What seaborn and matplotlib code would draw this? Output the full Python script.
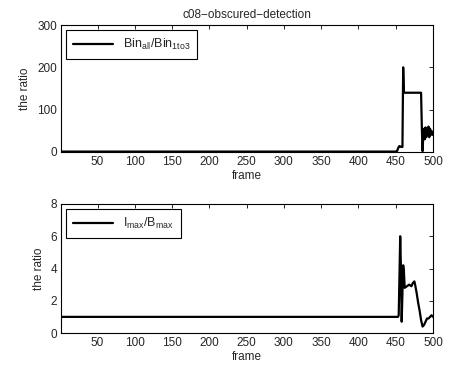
import matplotlib
matplotlib.use("Agg")
import matplotlib.pyplot as plt
import seaborn as sns
import pandas as pd

# ---- data ----
frames_top = [1, 451, 452, 453, 454, 455, 456, 457, 458, 459, 460, 461, 462,
              470, 480, 484, 485, 486, 487, 488, 489, 490, 491, 492, 493,
              494, 495, 496, 497, 498, 499, 500]
ratio_top = [1, 1, 3, 8, 12, 14, 13, 12, 12, 12, 200, 140, 140,
             140, 140, 140, 60, 2, 40, 55, 30, 58, 35, 50, 42, 60,
             35, 55, 40, 50, 45, 40]

frames_bot = [1, 453, 454, 455, 456, 457, 458, 459, 460, 461, 462, 465, 468,
              471, 473, 475, 476, 478, 480, 482, 484, 486, 488, 490, 492,
              494, 496, 498, 500]
ratio_bot = [1.0, 1.0, 1.1, 3.5, 6.0, 4.0, 0.7, 2.5, 4.2, 3.8, 2.8, 2.9, 3.0,
             2.9, 3.1, 3.2, 3.0, 2.5, 1.9, 1.4, 0.8, 0.4, 0.5, 0.7, 0.9,
             0.9, 1.0, 1.1, 1.0]

title = "c08\u2212obscured\u2212detection"
label_top = r"Bin$_{\mathrm{all}}$/Bin$_{\mathrm{1to3}}$"
label_bot = r"I$_{\mathrm{max}}$/B$_{\mathrm{max}}$"
xticks = [50, 100, 150, 200, 250, 300, 350, 400, 450, 500]
yticks_top = [0, 100, 200, 300]
yticks_bot = [0, 2, 4, 6, 8]

sns.set_style("white")
plt.rcParams["font.family"] = ["Liberation Sans", "DejaVu Sans"]
plt.rcParams["mathtext.fontset"] = "custom"
plt.rcParams["mathtext.rm"] = "Liberation Sans"
plt.rcParams["mathtext.it"] = "Liberation Sans:italic"
plt.rcParams["mathtext.bf"] = "Liberation Sans:bold"

FS = 8.5
fig = plt.figure(figsize=(4.52, 3.71), dpi=100)
ax1 = fig.add_axes([61/452, 1-152/371, (433-61)/452, (152-25)/371])
ax2 = fig.add_axes([61/452, 1-333/371, (433-61)/452, (333-204)/371])

df_top = pd.DataFrame({"frame": frames_top, "ratio": ratio_top})
df_bot = pd.DataFrame({"frame": frames_bot, "ratio": ratio_bot})

sns.lineplot(data=df_top, x="frame", y="ratio", ax=ax1, color="black",
             linewidth=1.6, label=label_top, estimator=None, sort=False)
sns.lineplot(data=df_bot, x="frame", y="ratio", ax=ax2, color="black",
             linewidth=1.6, label=label_bot, estimator=None, sort=False)

for ax, yt, ylim in [(ax1, yticks_top, (0, 300)), (ax2, yticks_bot, (0, 8))]:
    ax.set_xlim(1, 500)
    ax.set_ylim(*ylim)
    ax.set_xticks(xticks)
    ax.set_yticks(yt)
    ax.tick_params(direction="in", top=True, right=True, length=3,
                   width=0.6, labelsize=FS, color="black", pad=3)
    for s in ax.spines.values():
        s.set_visible(True)
        s.set_color("black")
        s.set_linewidth(0.8)
    ax.set_xlabel("frame", fontsize=FS, labelpad=1)
    ax.set_ylabel("the ratio", fontsize=FS, labelpad=4)
    leg = ax.legend(loc="upper left", fontsize=9, frameon=True, fancybox=False,
                    edgecolor="black", handlelength=3.2, borderpad=0.55,
                    borderaxespad=0.4, handletextpad=0.8)
    leg.get_frame().set_linewidth(0.8)
    leg.get_frame().set_alpha(1)

ax1.set_title(title, fontsize=FS, pad=5)

fig.savefig("out.png", dpi=100)
